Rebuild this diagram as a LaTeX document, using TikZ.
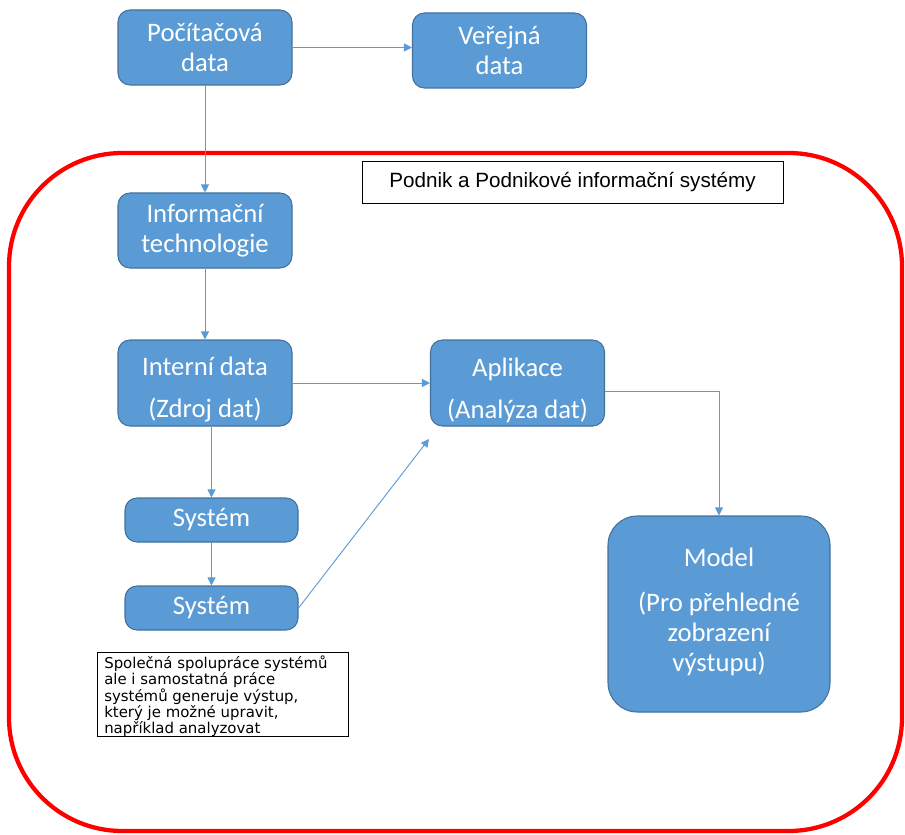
\documentclass[tikz,border=0pt]{standalone}
\usepackage{fontspec}
\setmainfont{Carlito}
\newfontfamily\notefont{DejaVu Sans}
\newfontfamily\labelfont{Liberation Sans}
\usetikzlibrary{arrows.meta}
\definecolor{boxfill}{HTML}{5B9BD5}
\definecolor{boxedge}{HTML}{41719C}
\definecolor{linkcol}{HTML}{5B9BD5}
\definecolor{framered}{HTML}{FF0000}
\tikzset{
  bx/.style={draw=boxedge, fill=boxfill, rounded corners=9pt, text=white,
    font=\fontsize{20}{22.5}\selectfont, align=center, inner sep=0pt, line width=0.8pt,
    minimum width=130.5pt, minimum height=56.25pt},
  btxt/.style={text=white, font=\fontsize{20}{22.5}\selectfont, align=center, inner sep=0pt},
  link/.style={draw=linkcol, line width=0.7pt, -{Triangle[width=6pt,length=6pt]}},
}
\begin{document}
\begin{tikzpicture}[x=0.75pt,y=-0.75pt]
\useasboundingbox (0,0) rectangle (905,834);
% red frame
\draw[framered, line width=3.2pt, rounded corners=85pt] (9,153) rectangle (902,831);
\node[draw=black, line width=0.6pt, fill=white, minimum width=315.75pt, minimum height=31.5pt,
  inner sep=0pt, font=\labelfont\fontsize{15.5}{18}\selectfont] (lbl) at (572.5,182.5)
  {Podnik a Podnikové informační systémy};
% boxes
\node[bx] (pc) at (205,47.5) {Počítačová\\data};
\node[bx] (ver) at (499.5,50.5) {Veřejná\\data};
\node[bx] (it) at (205,230.5) {Informační\\technologie};
\node[bx, minimum height=64.5pt] (int) at (205,383) {};
\node[btxt] (intT) at (205,390) {Interní data\\[9pt](Zdroj dat)};
\node[bx, minimum height=64.5pt] (app) at (517.5,383) {};
\node[btxt] (appT) at (517.5,390) {Aplikace\\[9pt](Analýza dat)};
\node[bx, minimum height=33pt, minimum width=129.75pt] (s1) at (211.5,520) {Systém};
\node[bx, minimum height=33pt, minimum width=129.75pt] (s2) at (211.5,608) {Systém};
\node[bx, rounded corners=22pt, minimum width=166.5pt, minimum height=147pt] (mod) at (719,614) {};
\node[btxt] (modT) at (719,612) {Model\\[11pt](Pro přehledné\\zobrazení\\výstupu)};
% note
\node[draw=black, line width=0.6pt, fill=white, minimum width=188pt, minimum height=63pt,
  inner sep=0pt, anchor=north west] (note) at (97,652) {};
\node[anchor=north west, align=left, inner sep=0pt, font=\notefont\fontsize{11.2}{11.8}\selectfont]
  (notetxt) at (104,656)
  {Společná spolupráce systémů\\ale i samostatná práce\\systémů generuje výstup,\\který je možné upravit,\\například analyzovat};
% connectors
\coordinate (appbl) at (429,439);
\draw[link] (pc.east) -- (ver.west |- pc.east);
\draw[link] (pc.south) -- (it.north);
\draw[link] (it.south) -- (int.north);
\draw[link] (int.east) -- (app.west);
\draw[link] (int.south -| s1.north) -- (s1.north);
\draw[link] (s1.south) -- (s2.north);
\draw[link] (s2.east) -- (appbl);
\draw[link] ([yshift=-6pt]app.east) -| (mod.north);
\end{tikzpicture}
\end{document}
